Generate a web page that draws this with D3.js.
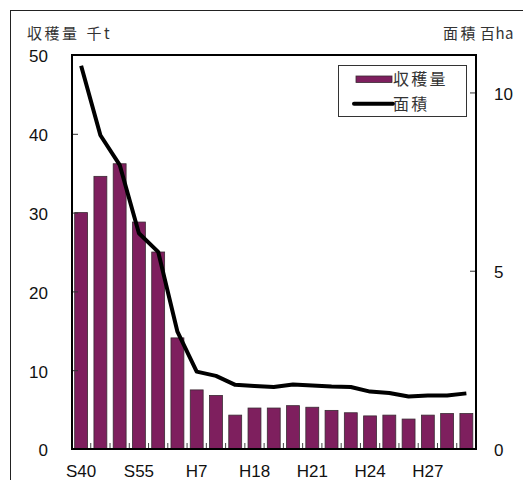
<!DOCTYPE html>
<html>
<head>
<meta charset="utf-8">
<script src="https://cdn.jsdelivr.net/npm/d3@7"></script>
<style>
  html, body { margin: 0; padding: 0; background: #fff; }
  svg { display: block; }
</style>
</head>
<body>
<svg id="chart" width="523" height="480"></svg>
<script>
// Survey years (Showa S.., Heisei H..)
const years = ["S40","S45","S50","S55","S60","H2","H7","H12","H17","H18","H19","H20",
               "H21","H22","H23","H24","H25","H26","H27","H28","H29"];
// Harvest, thousand tonnes (bars, left axis)
const harvest = [30.0,34.6,36.2,28.8,25.0,14.1,7.5,6.8,4.3,5.2,5.2,5.5,
                 5.3,4.9,4.6,4.2,4.3,3.8,4.3,4.5,4.5];
// Cultivated area, hundred ha (line, right axis)
const area = [10.75,8.80,7.97,6.05,5.53,3.29,2.17,2.05,1.80,1.77,1.74,1.81,
              1.78,1.75,1.74,1.61,1.57,1.47,1.50,1.50,1.56];
// Labelled categories on the x axis
const xTickLabels = ["S40","S55","H7","H18","H21","H24","H27"];
const leftTicks = [0,10,20,30,40,50];
const rightTicks = [0,5,10];

const svg = d3.select("#chart");
const plot = {left: 72, right: 476, top: 55, bottom: 449};

const x = d3.scaleBand().domain(years)
  .range([plot.left - 0.5, plot.right])
  .paddingInner(0.33).paddingOuter(0.165);
const yL = d3.scaleLinear().domain([0, 50]).range([plot.bottom, plot.top]);
const yR = d3.scaleLinear().domain([0, 11.05]).range([plot.bottom, plot.top]);

const latin = "'Liberation Sans', Arial, sans-serif";
const cjk = "'Noto Sans CJK JP', sans-serif";

// outer frame
svg.append("rect")
  .attr("x", 10.5).attr("y", 10.5).attr("width", 560).attr("height", 520)
  .attr("fill", "none").attr("stroke", "#222").attr("stroke-width", 1);

// bars
svg.append("g").selectAll("rect").data(years).join("rect")
  .attr("x", d => x(d))
  .attr("width", x.bandwidth())
  .attr("y", (d, i) => yL(harvest[i]))
  .attr("height", (d, i) => plot.bottom - yL(harvest[i]))
  .attr("fill", "#7e1f5e")
  .attr("stroke", "#3a2a33")
  .attr("stroke-width", 0.8);

// category separator ticks along the bottom (pointing inward)
const step = x.step();
const sepG = svg.append("g");
years.slice(1).forEach((d, i) => {
  const sx = x(d) - x.paddingInner() * step / 2;
  sepG.append("line")
    .attr("x1", sx).attr("x2", sx)
    .attr("y1", plot.bottom).attr("y2", plot.bottom - 6)
    .attr("stroke", "#444").attr("stroke-width", 1);
});

// left axis (ticks inside)
const leftAxis = d3.axisLeft(yL).tickValues(leftTicks).tickSize(-6).tickPadding(0).tickFormat(d3.format("d"));
const gL = svg.append("g").attr("transform", `translate(${plot.left},0)`).call(leftAxis);
gL.select(".domain").remove();
gL.selectAll(".tick line").attr("stroke", "#333");
gL.selectAll(".tick text")
  .attr("x", 48 - plot.left).attr("dy", "0.4em")
  .attr("font-family", latin).attr("font-size", 17).attr("fill", "#111");

// right axis (ticks inside)
const rightAxis = d3.axisRight(yR).tickValues(rightTicks).tickSize(-6).tickFormat(d3.format("d"));
const gR = svg.append("g").attr("transform", `translate(${plot.right},0)`).call(rightAxis);
gR.select(".domain").remove();
gR.selectAll(".tick line").attr("stroke", "#333");
gR.selectAll(".tick text")
  .attr("x", 494 - plot.right).attr("dy", "0.4em")
  .attr("font-family", latin).attr("font-size", 17).attr("fill", "#111");

// bottom category labels
const gB = svg.append("g").attr("transform", `translate(0,${plot.bottom})`)
  .call(d3.axisBottom(x).tickValues(xTickLabels).tickSize(0).tickPadding(0));
gB.select(".domain").remove();
gB.selectAll(".tick text")
  .attr("y", 27.5).attr("dy", 0)
  .attr("font-family", latin).attr("font-size", 17).attr("fill", "#111");

// plot frame
svg.append("path")
  .attr("d", `M${plot.left},${plot.bottom}V${plot.top}H${plot.right}V${plot.bottom}Z`)
  .attr("fill", "none").attr("stroke", "#000").attr("stroke-width", 2);

// area line
const line = d3.line()
  .x((d, i) => x(years[i]) + x.bandwidth() / 2)
  .y(d => yR(d));
svg.append("path").datum(area)
  .attr("d", line)
  .attr("fill", "none").attr("stroke", "#000")
  .attr("stroke-width", 4).attr("stroke-linejoin", "round");

// axis titles
const t1 = svg.append("text").attr("x", 27).attr("y", 39)
  .attr("font-family", cjk).attr("font-size", 15).attr("letter-spacing", 2.5).attr("fill", "#333");
t1.append("tspan").text("収穫量");
t1.append("tspan").attr("dx", 7).text("千t");
const t2 = svg.append("text").attr("x", 443).attr("y", 39)
  .attr("font-family", cjk).attr("font-size", 15).attr("letter-spacing", 2.5).attr("fill", "#333");
t2.append("tspan").text("面積");
t2.append("tspan").attr("dx", 2).attr("letter-spacing", 0.5).text("百ha");

// legend
const lg = svg.append("g");
lg.append("rect").attr("x", 338.5).attr("y", 65.5).attr("width", 128).attr("height", 51)
  .attr("fill", "#fff").attr("stroke", "#333").attr("stroke-width", 1);
lg.append("rect").attr("x", 356).attr("y", 76).attr("width", 36).attr("height", 6.5)
  .attr("fill", "#7e1f5e").attr("stroke", "#3a2a33").attr("stroke-width", 0.8);
lg.append("text").attr("x", 393).attr("y", 85).text("収穫量")
  .attr("font-family", cjk).attr("font-size", 16).attr("letter-spacing", 2.3).attr("fill", "#333");
lg.append("line").attr("x1", 354).attr("x2", 393).attr("y1", 103.7).attr("y2", 103.7)
  .attr("stroke", "#000").attr("stroke-width", 4).attr("stroke-linecap", "round");
lg.append("text").attr("x", 393).attr("y", 110).text("面積")
  .attr("font-family", cjk).attr("font-size", 16).attr("letter-spacing", 2.3).attr("fill", "#333");
</script>
</body>
</html>
